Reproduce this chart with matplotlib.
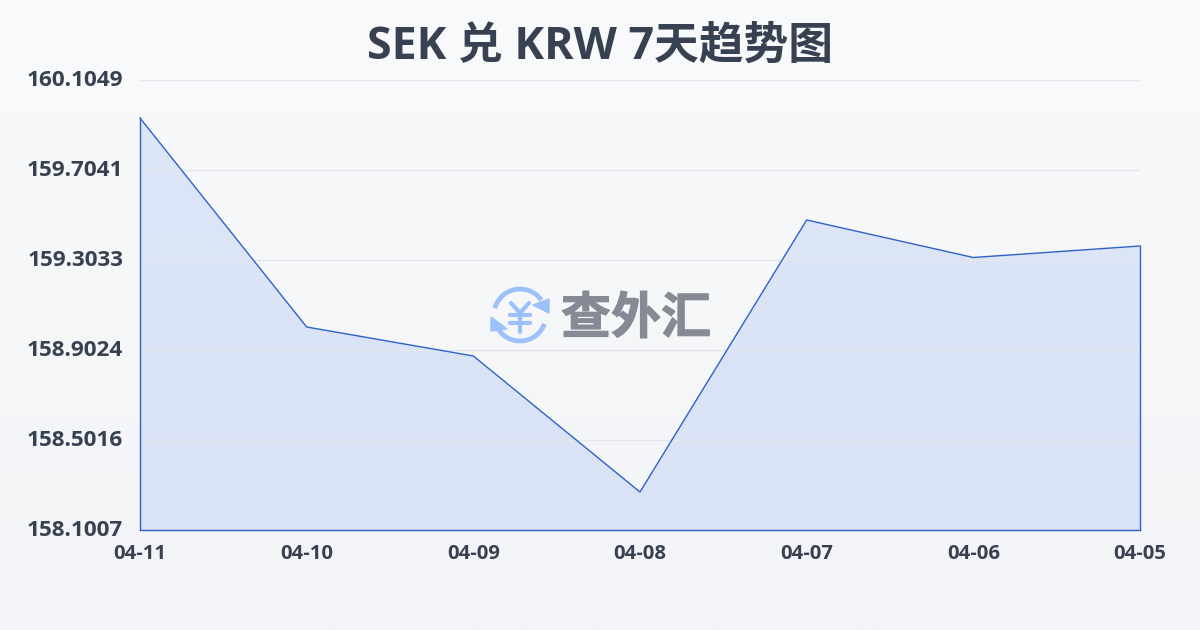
import numpy as np
import matplotlib
matplotlib.use('Agg')
import matplotlib.pyplot as plt
import matplotlib.patheffects as pe
from matplotlib.patches import Polygon, Arc
from matplotlib.transforms import ScaledTranslation

plt.rcParams['font.family'] = ['Open Sans', 'Noto Sans CJK SC', 'DejaVu Sans']

dates = ['04-11', '04-10', '04-09', '04-08', '04-07', '04-06', '04-05']
rates = [159.9357, 159.0048, 158.8757, 158.2699, 159.4814, 159.3144, 159.3656]
y_ticks = [158.1007, 158.5016, 158.9024, 159.3033, 159.7041, 160.1049]
title = 'SEK 兑 KRW 7天趋势图'

TEXT = '#374151'
LINE = '#2f62c9'

fig = plt.figure(figsize=(12, 6.3), dpi=100)

# page background
bg = fig.add_axes([0, 0, 1, 1], zorder=0)
bg.imshow(np.linspace(0, 1, 256).reshape(-1, 1), aspect='auto', extent=[0, 1, 0, 1],
          cmap=matplotlib.colors.LinearSegmentedColormap.from_list('bg', ['#f9fafb', '#f3f4f7']))
bg.axis('off')

ax = fig.add_axes([140 / 1200, 1 - 530 / 630, 1000 / 1200, 450 / 630], zorder=1)
ax.patch.set_alpha(0)
x = np.arange(len(dates))
ax.set_xlim(0, len(dates) - 1)
ax.set_ylim(y_ticks[0], y_ticks[-1])

# area gradient clipped to the series
grad = ax.imshow(np.linspace(0, 1, 256).reshape(-1, 1), aspect='auto',
                 extent=[0, len(dates) - 1, y_ticks[0], y_ticks[-1]], zorder=2,
                 cmap=matplotlib.colors.LinearSegmentedColormap.from_list('area', ['#dce7f8', '#dae2f5']))
poly = Polygon(list(zip(x, rates)) + [(x[-1], y_ticks[0]), (x[0], y_ticks[0])],
               closed=True, fc='none', ec='none', transform=ax.transData)
ax.add_patch(poly)
grad.set_clip_path(poly)

ax.set_yticks(y_ticks)
ax.set_xticks(x)
ax.grid(axis='y', color='#e4e7ec', lw=1, zorder=3)
ax.set_axisbelow(False)
for gl in ax.get_ygridlines():
    gl.set_zorder(3)
ax.plot(x, rates, color=LINE, lw=1, zorder=4, clip_on=False)
ax.plot([0, 0], [y_ticks[0], rates[0]], color=LINE, lw=1, zorder=4, clip_on=False)
ax.plot([x[-1], x[-1]], [y_ticks[0], rates[-1]], color=LINE, lw=1, zorder=4, clip_on=False)
ax.plot([0, x[-1]], [y_ticks[0], y_ticks[0]], color=LINE, lw=1, zorder=4, clip_on=False)

for s in ax.spines.values():
    s.set_visible(False)
ax.tick_params(length=0)
ax.set_xticklabels(dates, fontsize=14.6, fontweight='bold', color=TEXT)
ax.set_yticklabels([f'{v:.4f}' for v in y_ticks], fontsize=16.2, fontweight='bold', color=TEXT)
ax.tick_params(axis='x', pad=10)
ax.tick_params(axis='y', pad=12)
# y labels sit a little above their grid lines
up = ScaledTranslation(0, 2 / 100, fig.dpi_scale_trans)
for lab in ax.get_yticklabels():
    lab.set_transform(lab.get_transform() + up)

fig.text(600 / 1200, 1 - 47 / 630, title, ha='center', va='center',
         fontsize=32.2, fontweight='bold', color=TEXT)

# watermark, drawn in pixel coordinates
wm = fig.add_axes([0, 0, 1, 1], zorder=5)
wm.set_xlim(0, 1200)
wm.set_ylim(630, 0)
wm.axis('off')
wm.patch.set_alpha(0)
ICON = '#9cc0fa'
cx, cy, r = 520, 315, 26
wm.add_patch(Arc((cx, cy), 2 * r, 2 * r, theta1=195, theta2=325, color=ICON, lw=3.4))
wm.add_patch(Arc((cx, cy), 2 * r, 2 * r, theta1=20, theta2=150, color=ICON, lw=3.4))
wm.add_patch(Polygon([(549, 299), (549, 313), (533, 305)], closed=True, fc=ICON, ec=ICON))
wm.add_patch(Polygon([(491, 317), (491, 331), (507, 329)], closed=True, fc=ICON, ec=ICON))
wm.plot([511, 520, 529], [303, 313, 303], color=ICON, lw=3, solid_capstyle='round')
wm.plot([510, 530], [315, 315], color=ICON, lw=3, solid_capstyle='round')
wm.plot([510, 530], [323, 323], color=ICON, lw=3, solid_capstyle='round')
wm.plot([520, 520], [313, 332], color=ICON, lw=3, solid_capstyle='round')
wm.text(636, 319, '查外汇', ha='center', va='center', fontsize=36, fontweight='bold',
        color='#858a94', family=['Noto Sans CJK SC'],
        path_effects=[pe.withStroke(linewidth=0.8, foreground='#858a94')])

fig.savefig('out.png', dpi=100)
